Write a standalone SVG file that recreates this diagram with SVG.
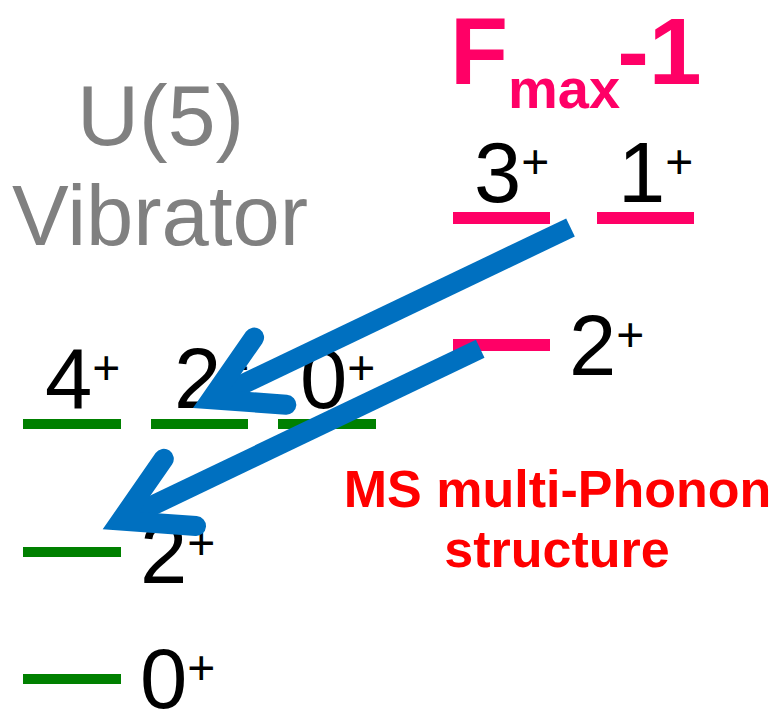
<svg xmlns="http://www.w3.org/2000/svg" width="778" height="711" viewBox="0 0 778 711">
<style>
  text { font-family: "Liberation Sans", Arial, sans-serif; }
  .lvl { font-size: 85px; fill: #000000; }
  .sup { font-size: 48px; }
  .green { fill: #008000; }
  .pink { fill: #FF0066; }
  .shaft { stroke: #0070C0; stroke-width: 20; fill: none; stroke-linecap: butt; }
  .head { stroke: #0070C0; stroke-width: 20; fill: none; stroke-linecap: round; stroke-linejoin: miter; stroke-miterlimit: 4; }
</style>
<rect x="0" y="0" width="778" height="711" fill="#FFFFFF"/>

<g id="title-u5">
  <text x="77" y="145" font-size="86" fill="#808080">U(5)</text>
  <text x="12" y="245" font-size="85" fill="#808080">Vibrator</text>
</g>

<g id="title-fmax">
  <text x="450" y="84" font-size="95" font-weight="bold" fill="#FF0066">F<tspan font-size="56" dy="24">max</tspan><tspan dy="-24" dx="-3">-1</tspan></text>
</g>

<g id="level-3plus">
  <rect class="pink" x="453" y="212" width="97" height="12"/>
  <text class="lvl" x="474" y="202">3<tspan class="sup" dy="-24">+</tspan></text>
</g>
<g id="level-1plus">
  <rect class="pink" x="597" y="212" width="97" height="12"/>
  <text class="lvl" x="618" y="202">1<tspan class="sup" dy="-24">+</tspan></text>
</g>
<g id="level-2plus-ms">
  <rect class="pink" x="453" y="339" width="97" height="12"/>
  <text class="lvl" x="569" y="375">2<tspan class="sup" dy="-24">+</tspan></text>
</g>

<g id="level-4plus">
  <rect class="green" x="23" y="419" width="98" height="10"/>
  <text class="lvl" x="45" y="408">4<tspan class="sup" dy="-24">+</tspan></text>
</g>
<g id="level-2plus-two">
  <rect class="green" x="151" y="419" width="97" height="10"/>
  <text class="lvl" x="174" y="408">2<tspan class="sup" dy="-24">+</tspan></text>
</g>
<g id="level-0plus-two">
  <rect class="green" x="278" y="419" width="98" height="10"/>
  <text class="lvl" x="300" y="408">0<tspan class="sup" dy="-24">+</tspan></text>
</g>
<g id="level-2plus-one">
  <rect class="green" x="23" y="547" width="98" height="10"/>
  <text class="lvl" x="140" y="583">2<tspan class="sup" dy="-24">+</tspan></text>
</g>
<g id="level-0plus-ground">
  <rect class="green" x="23" y="674" width="98" height="10"/>
  <text class="lvl" x="140" y="708">0<tspan class="sup" dy="-24">+</tspan></text>
</g>

<g id="ms-label">
  <text x="557.5" y="507" font-size="52" font-weight="bold" fill="#FF0000" text-anchor="middle">MS multi-Phonon</text>
  <text x="557" y="567" font-size="52" font-weight="bold" fill="#FF0000" text-anchor="middle">structure</text>
</g>

<g id="connectors">
  <line class="shaft" x1="570.5" y1="227.5" x2="211.2" y2="399.3"/>
  <path class="head" d="M254.1 337.5 L211.2 399.3 L286.3 404.7"/>
  <line class="shaft" x1="480.2" y1="348.8" x2="120.9" y2="520.6"/>
  <path class="head" d="M163.8 458.8 L120.9 520.6 L196 526"/>
</g>
</svg>
